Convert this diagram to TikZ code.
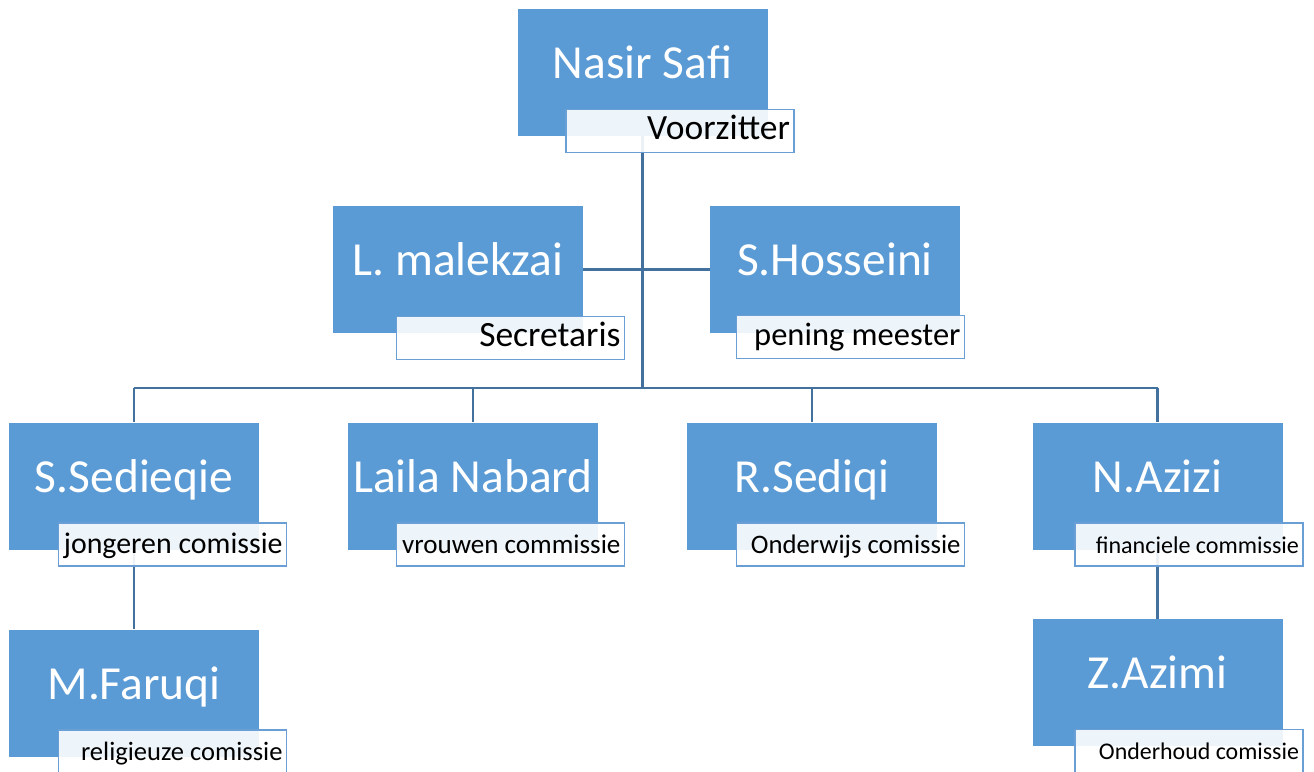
\documentclass[tikz,border=0pt]{standalone}
\usepackage{fontspec}
\setmainfont{Carlito}
\usetikzlibrary{backgrounds}
\definecolor{boxblue}{HTML}{5B9BD5}
\definecolor{lineblue}{HTML}{41719C}
\definecolor{roleedge}{HTML}{6A9FD6}

\begin{document}
\begin{tikzpicture}[node distance=6.78cm]
    \tikzstyle{member} = [rectangle, minimum width=5cm, minimum height=2.54cm, fill=boxblue, text=white, inner sep=0pt, text height=0.6cm, text depth=0.36cm, font=\fontsize{27}{32}\selectfont]
    \tikzstyle{role} = [rectangle, anchor=south east, draw=roleedge, line width=1pt, fill=white, fill opacity=0.9, text opacity=1, text=black, inner xsep=0.08cm, inner ysep=0pt, text width=4.4cm, minimum height=0.86cm, align=flush right, text height=0.45cm, text depth=0.1cm]
    \tikzstyle{link} = [draw=lineblue, line width=1.2pt]
    \useasboundingbox (0,0) rectangle (26.28,-15.42);

    \node (nasir) [member] at (12.85,-1.45) {Nasir Safi};
    \node (voorzitter) [role, xshift=0.54cm, yshift=-0.34cm, font=\fontsize{20.2}{24}\selectfont] at (nasir.south east) {Voorzitter};

    \node (malekzai) [member] at (9.16,-5.39) {L. malekzai};
    \node (secretaris) [role, xshift=0.84cm, yshift=-0.54cm, font=\fontsize{20.2}{24}\selectfont] at (malekzai.south east) {Secretaris};
    \node (hosseini) [member, right of=malekzai, xshift=0.76cm] {S.Hosseini};
    \node (penning) [role, xshift=0.1cm, yshift=-0.52cm, font=\fontsize{18.5}{22}\selectfont] at (hosseini.south east) {pening meester};

    \node (sedieqie) [member] at (2.68,-9.72) {S.Sedieqie};
    \node (jongeren) [role, xshift=0.56cm, yshift=-0.34cm, font=\fontsize{17}{20}\selectfont] at (sedieqie.south east) {jongeren comissie};
    \node (nabard) [member, right of=sedieqie] {Laila Nabard};
    \node (vrouwen) [role, xshift=0.54cm, yshift=-0.34cm, font=\fontsize{15.4}{18}\selectfont] at (nabard.south east) {vrouwen commissie};
    \node (sediqi) [member, right of=nabard] {R.Sediqi};
    \node (onderwijs) [role, xshift=0.56cm, yshift=-0.34cm, font=\fontsize{15.2}{18}\selectfont] at (sediqi.south east) {Onderwijs comissie};
    \node (azizi) [member, right of=sediqi, xshift=0.13cm] {N.Azizi};
    \node (financien) [role, xshift=0.42cm, yshift=-0.34cm, font=\fontsize{13.7}{16}\selectfont] at (azizi.south east) {financiele commissie};

    \node (faruqi) [member, below of=sedieqie, yshift=2.64cm] {M.Faruqi};
    \node (religie) [role, xshift=0.56cm, yshift=-0.34cm, font=\fontsize{15.1}{18}\selectfont] at (faruqi.south east) {religieuze comissie};
    \node (azimi) [member, below of=azizi, yshift=2.85cm] {Z.Azimi};
    \node (onderhoud) [role, xshift=0.42cm, yshift=-0.54cm, font=\fontsize{13.6}{16}\selectfont] at (azimi.south east) {Onderhoud comissie};

    \begin{scope}[on background layer]
    \coordinate (bus) at (12.85,-7.76);
    \draw[link] (nasir.south) -- (bus);
    \draw[link] (malekzai.east) -- (hosseini.west);
    \draw[link] (bus -| sedieqie.north) -- (bus -| azizi.north);
    \draw[link] (bus -| sedieqie.north) -- (sedieqie.north);
    \draw[link] (bus -| nabard.north) -- (nabard.north);
    \draw[link] (bus -| sediqi.north) -- (sediqi.north);
    \draw[link] (bus -| azizi.north) -- (azizi.north);
    \draw[link] (sedieqie.south) -- (faruqi.north);
    \draw[link] (azizi.south) -- (azimi.north);
    \end{scope}
\end{tikzpicture}
\end{document}
